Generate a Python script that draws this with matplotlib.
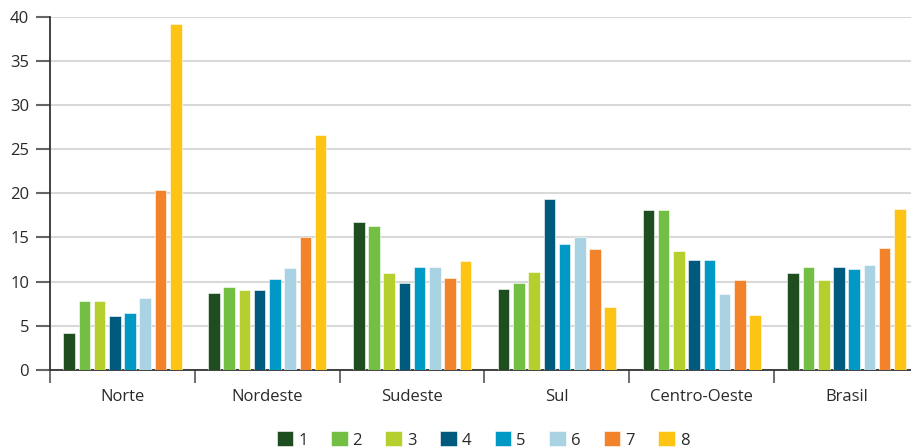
import matplotlib.pyplot as plt
import numpy as np

regions = ["Norte", "Nordeste", "Sudeste", "Sul", "Centro-Oeste", "Brasil"]
series_labels = ["1", "2", "3", "4", "5", "6", "7", "8"]
colors = ["#1e4d20", "#72bf44", "#b5cf2e", "#005a7e", "#0098c4", "#a9d3e2", "#f2832b", "#fdc413"]

# one row per series (1..8), one column per region
values = np.array([
    [4.2, 8.7, 16.8, 9.2, 18.1, 11.0],
    [7.8, 9.4, 16.3, 9.8, 18.1, 11.6],
    [7.8, 9.1, 11.0, 11.1, 13.5, 10.2],
    [6.1, 9.0, 9.8, 19.3, 12.5, 11.7],
    [6.4, 10.3, 11.6, 14.3, 12.5, 11.4],
    [8.1, 11.5, 11.6, 15.1, 8.6, 11.9],
    [20.4, 15.1, 10.4, 13.7, 10.2, 13.8],
    [39.1, 26.6, 12.3, 7.1, 6.2, 18.2],
])

plt.rcParams['font.family'] = ['Open Sans', 'DejaVu Sans']

fig = plt.figure(figsize=(9.12, 4.48), dpi=100)
ax = fig.add_axes([50 / 912, 78 / 448, 869 / 912, 353.5 / 448])

pitch = 0.1052
width = 0.08
centers = np.arange(len(regions)) + 0.5
for i, (lab, col) in enumerate(zip(series_labels, colors)):
    offs = (i - 3.5) * pitch
    ax.bar(centers + offs, values[i], width=width, color=col, label=lab,
           edgecolor="white", linewidth=0.4, zorder=3)

ax.set_xlim(0, len(regions))
ax.set_ylim(0, 40)
ax.set_yticks(np.arange(0, 41, 5))
ax.yaxis.grid(True, color="#d9d9d9", linewidth=1.5, zorder=0)
ax.set_axisbelow(True)

# group separators as major ticks, region names on minor ticks
ax.set_xticks(np.arange(0, len(regions) + 1), minor=False)
ax.set_xticklabels([])
ax.set_xticks(centers, minor=True)
ax.set_xticklabels(regions, minor=True)
ax.tick_params(axis="x", which="major", length=9.5, width=1.2, color="#555555")
ax.tick_params(axis="x", which="minor", length=0, pad=14, labelsize=12, labelcolor="#2a2a2a")
ax.tick_params(axis="y", length=10, width=1.5, color="#666666", labelsize=12,
               labelcolor="#2a2a2a", pad=5)

for side in ["top", "right"]:
    ax.spines[side].set_visible(False)
for side in ["left", "bottom"]:
    ax.spines[side].set_color("#333333")
    ax.spines[side].set_linewidth(1.3)

fig.legend(loc="center", bbox_to_anchor=(483 / 912, 8 / 448), ncol=8, frameon=False,
           fontsize=12, handlelength=1.0, handleheight=1.0, handletextpad=0.3,
           columnspacing=1.4, labelcolor="#2a2a2a", borderpad=0)

fig.savefig("out.png", dpi=100)
